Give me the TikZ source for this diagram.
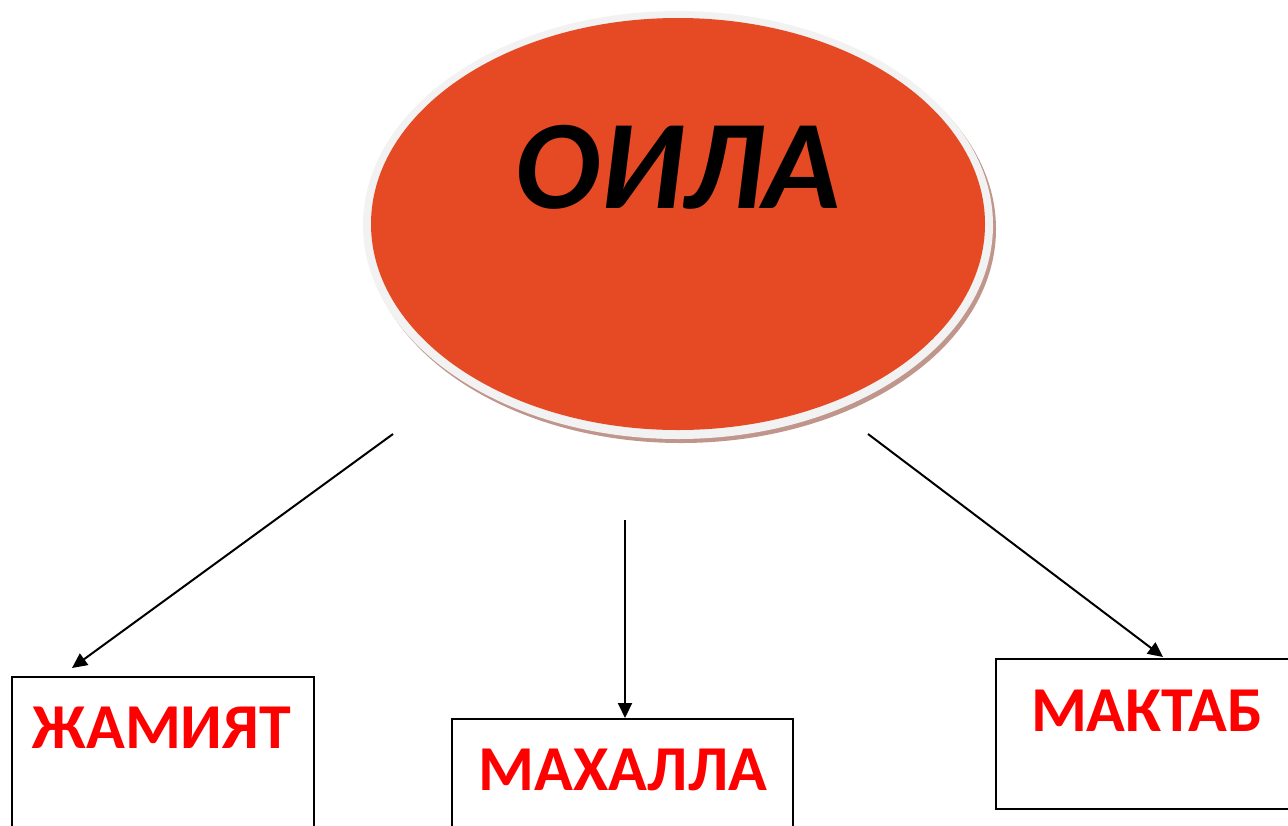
\documentclass[tikz,border=0pt]{standalone}
\usepackage{fontspec}
\setmainfont{Carlito}
\usetikzlibrary{arrows.meta,shapes.geometric,calc}
\definecolor{oilaorange}{HTML}{E54A25}
\definecolor{ringgray}{HTML}{F2F2F2}
\definecolor{shadowbrown}{HTML}{C0968C}
\definecolor{labelred}{HTML}{FF0000}
\tikzset{
  boxnode/.style={draw=black, line width=1pt, fill=white, rectangle, inner sep=0pt, anchor=north west},
  boxlabel/.style={text=labelred, font=\fontsize{32}{36}\selectfont\bfseries, anchor=base, inner sep=0pt},
  linkarrow/.style={draw=black, line width=1pt, -{Triangle[length=7.5pt,width=7pt]}}
}
\begin{document}
\begin{tikzpicture}[x=0.5pt,y=-0.5pt]
\useasboundingbox (0,0) rectangle (1288,825);
\clip (0,0) rectangle (1288,825);
% ellipse with shadow and ring
\fill[shadowbrown] (681,229) ellipse [x radius=315, y radius=214];
\fill[ringgray] (678,225) ellipse [x radius=315, y radius=214];
\node[ellipse, fill=oilaorange, minimum width=307pt, minimum height=206pt, inner sep=0pt] (oila) at (678,224) {};
\node[font=\fontsize{63.5}{70}\selectfont\bfseries\itshape, anchor=base, inner sep=0pt] (oilatext) at (678,208) {ОИЛА};
% boxes
\node[boxnode, minimum width=151pt, minimum height=92pt] (jambox) at (11,676) {};
\node[boxnode, minimum width=170.5pt, minimum height=71pt] (mahbox) at (451,718) {};
\node[boxnode, minimum width=160pt, minimum height=75pt] (makbox) at (995,658) {};
\node[boxlabel] (jamtext) at (162,748) {ЖАМИЯТ};
\node[boxlabel] (mahtext) at (623,790) {МАХАЛЛА};
\node[boxlabel] (maktext) at (1147,731) {МАКТАБ};
% connector ends
\coordinate (s1) at (393,434);
\coordinate (s2) at (625,520);
\coordinate (s3) at (868,434);
\coordinate (t1) at ($(jambox.north west)+(61,-8)$);
\coordinate (t2) at (mahbox.north -| s2);
\coordinate (t3) at ($(makbox.north west)+(168,-1)$);
\draw[linkarrow] (s1) -- (t1);
\draw[linkarrow] (s2) -- (t2);
\draw[linkarrow] (s3) -- (t3);
\end{tikzpicture}
\end{document}
